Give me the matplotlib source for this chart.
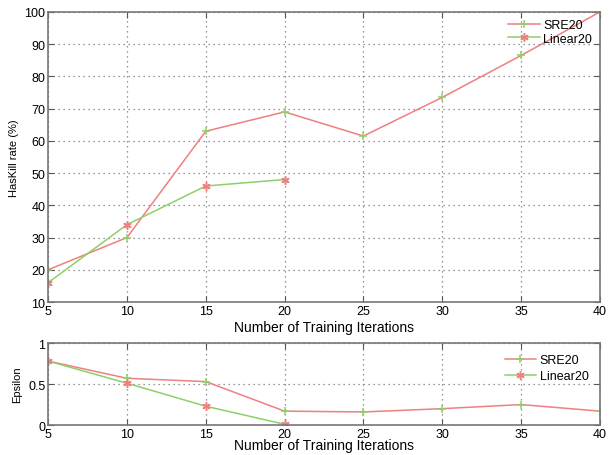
import matplotlib
matplotlib.use("Agg")
import matplotlib.pyplot as plt

plt.rcParams['font.family'] = ['Liberation Sans', 'DejaVu Sans']

# data
iters = [5, 10, 15, 20, 25, 30, 35, 40]
iters_lin = [5, 10, 15, 20]
haskill_sre = [20, 30, 63, 69, 61.5, 73.5, 86.5, 100]
haskill_lin = [16, 34, 46, 48]
eps_sre = [0.78, 0.57, 0.53, 0.17, 0.16, 0.20, 0.25, 0.17]
eps_lin = [0.78, 0.51, 0.23, 0.01]

red = '#f07f7f'
green = '#8fcf6a'
star = (6, 2, 0)  # asterisk, like matlab '*'

fig = plt.figure(figsize=(6.09, 4.56), dpi=100)
ax1 = fig.add_axes([0.079, 0.3355, 0.906, 0.636])
ax2 = fig.add_axes([0.079, 0.0656, 0.906, 0.180])


def style(ax):
    ax.set_xlim(5, 40)
    ax.set_xticks(iters)
    ax.grid(True, linestyle=(0, (1, 3)), color='#777777', linewidth=0.9)
    ax.tick_params(direction='in', top=True, right=True, labelsize=9, length=4,
                   color='#555555', pad=2)
    for s in ax.spines.values():
        s.set_color('#777777')
        s.set_linewidth(1.2)


def draw(ax, sre, lin):
    ax.plot(iters, sre, color=red, lw=1.1, marker='+', ms=6, mec=green, mew=1.1, label='SRE20')
    ax.plot(iters_lin, lin, color=green, lw=1.1, marker=star, ms=6, mec=red, mew=1.1, label='Linear20')


draw(ax1, haskill_sre, haskill_lin)
style(ax1)
ax1.set_ylim(10, 100)
ax1.set_yticks(range(10, 101, 10))
ax1.set_xlabel('Number of Training Iterations', fontsize=10, labelpad=2)
ax1.set_ylabel('HasKill rate (%)', fontsize=8, labelpad=4)
ax1.legend(loc='upper right', frameon=False, fontsize=9, handlelength=2.5,
           borderaxespad=0.2, labelspacing=0.1, handletextpad=0.3)

draw(ax2, eps_sre, eps_lin)
style(ax2)
ax2.set_ylim(0, 1)
ax2.set_yticks([0, 0.5, 1])
ax2.set_yticklabels(['0', '0.5', '1'])
ax2.set_xlabel('Number of Training Iterations', fontsize=10, labelpad=-1)
ax2.set_ylabel('Epsilon', fontsize=8, labelpad=4)
ax2.legend(loc='upper right', frameon=False, fontsize=9, handlelength=2.5,
           borderaxespad=0.5, labelspacing=0.3, handletextpad=0.3)

fig.savefig('out.png', dpi=100)
